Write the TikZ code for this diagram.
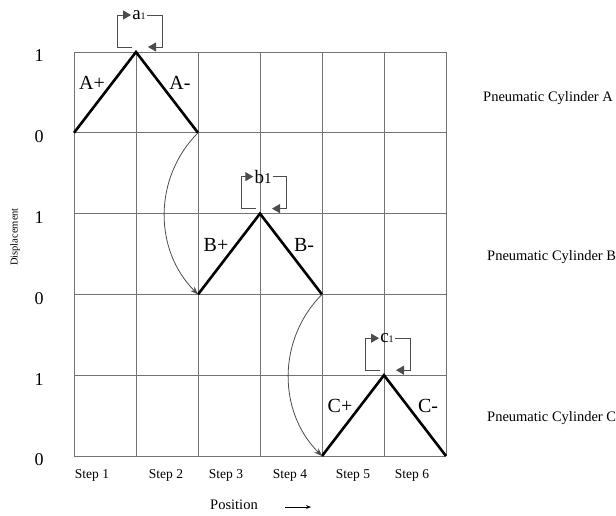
\documentclass[tikz,border=0pt]{standalone}
\usepackage{fontspec}
\setmainfont{Liberation Serif}
\usetikzlibrary{arrows.meta,positioning,calc}

\newcommand{\low}[1]{{\fontsize{10}{12}\selectfont #1}}

\begin{document}
\begin{tikzpicture}[
		x=1pt, y=-1pt,
		gridline/.style={draw=black!55, line width=1pt},
		stroke/.style={line width=2.6pt, line join=miter},
		fb/.style={draw=black!70, line width=1pt, -{Triangle[length=8pt,width=9pt]}},
		link/.style={draw=black!70, line width=0.8pt, -{Stealth[length=8pt,width=6pt]}},
		lvl/.style={font=\fontsize{18}{20}\selectfont},
		seg/.style={font=\fontsize{20}{22}\selectfont, inner sep=0pt},
		fbtext/.style={font=\fontsize{19}{20}\selectfont, inner sep=1pt},
		steplab/.style={font=\fontsize{13.5}{15}\selectfont},
		cyl/.style={font=\fontsize{14.5}{16}\selectfont, anchor=west, inner sep=0pt}
		]
		\useasboundingbox (0,0) rectangle (616,515);
		
		% grid
		\foreach \c in {0,...,6}
		\draw[gridline] (74+62*\c,52) -- (74+62*\c,456);
		\foreach \r in {0,...,5}
		\draw[gridline] (74,52+80.8*\r) -- (446,52+80.8*\r);
		
		% cylinder strokes
		\foreach \n/\c/\r/\t in {A/0/0/a\low{1}, B/2/2/b{\fontsize{15}{16}\selectfont 1}, C/4/4/c\low{1}} {
			\coordinate (\n0) at (74+62*\c,52+80.8*\r+80.8);
			\coordinate (\n1) at (74+62*\c+62,52+80.8*\r);
			\coordinate (\n2) at (74+62*\c+124,52+80.8*\r+80.8);
			\draw[stroke] (\n0) -- (\n1) -- (\n2);
			
			\node[seg] (plus\n) at ([shift={(-44,31)}]\n1) {\n+};
			\node[seg] (minus\n) at ([shift={(44,31)}]\n1) {\n-};
			
			\node[fbtext] (lab\n) at ([shift={(3,-37)}]\n1) {\t};
			\draw[fb] ([shift={(-4,-5)}]\n1) -| ([shift={(-19,-37)}]\n1) -- (lab\n.west);
			\draw[fb] (lab\n.east) -| ([shift={(26,-5)}]\n1) -- ([shift={(12,-5)}]\n1);
		}
		
		% sequence
		\draw[link] (A2) to[bend right=45] (B0);
		\draw[link] (B2) to[bend right=45] (C0);
		
		% levels
		\foreach \r/\v in {0/1,1/0,2/1,3/0,4/1,5/0}
		\node[lvl] (lvl\r) at (39,56+80.8*\r) {\v};
		
		\node[rotate=90, font=\fontsize{10.5}{12}\selectfont] (disp) at (15,237) {Displacement};
		
		% steps
		\foreach \i/\x in {1/92,2/166,3/226,4/290,5/353,6/412}
		\node[steplab] (step\i) at (\x,475) {Step \i};
		
		\node[font=\fontsize{14.5}{16}\selectfont, inner sep=0pt] (pos) at (234,505) {Position};
		\coordinate (posA) at (285,507);
		\coordinate (posB) at (311,507);
		\draw[line width=0.8pt, -{Stealth[length=5pt,width=4pt]}] (posA) -- (posB);
		
		% cylinders
		\node[cyl] (cylA) at (483,98) {Pneumatic Cylinder A};
		\node[cyl] (cylB) at (487,257) {Pneumatic Cylinder B};
		\node[cyl] (cylC) at (487,418) {Pneumatic Cylinder C};
		
	\end{tikzpicture}
\end{document}
